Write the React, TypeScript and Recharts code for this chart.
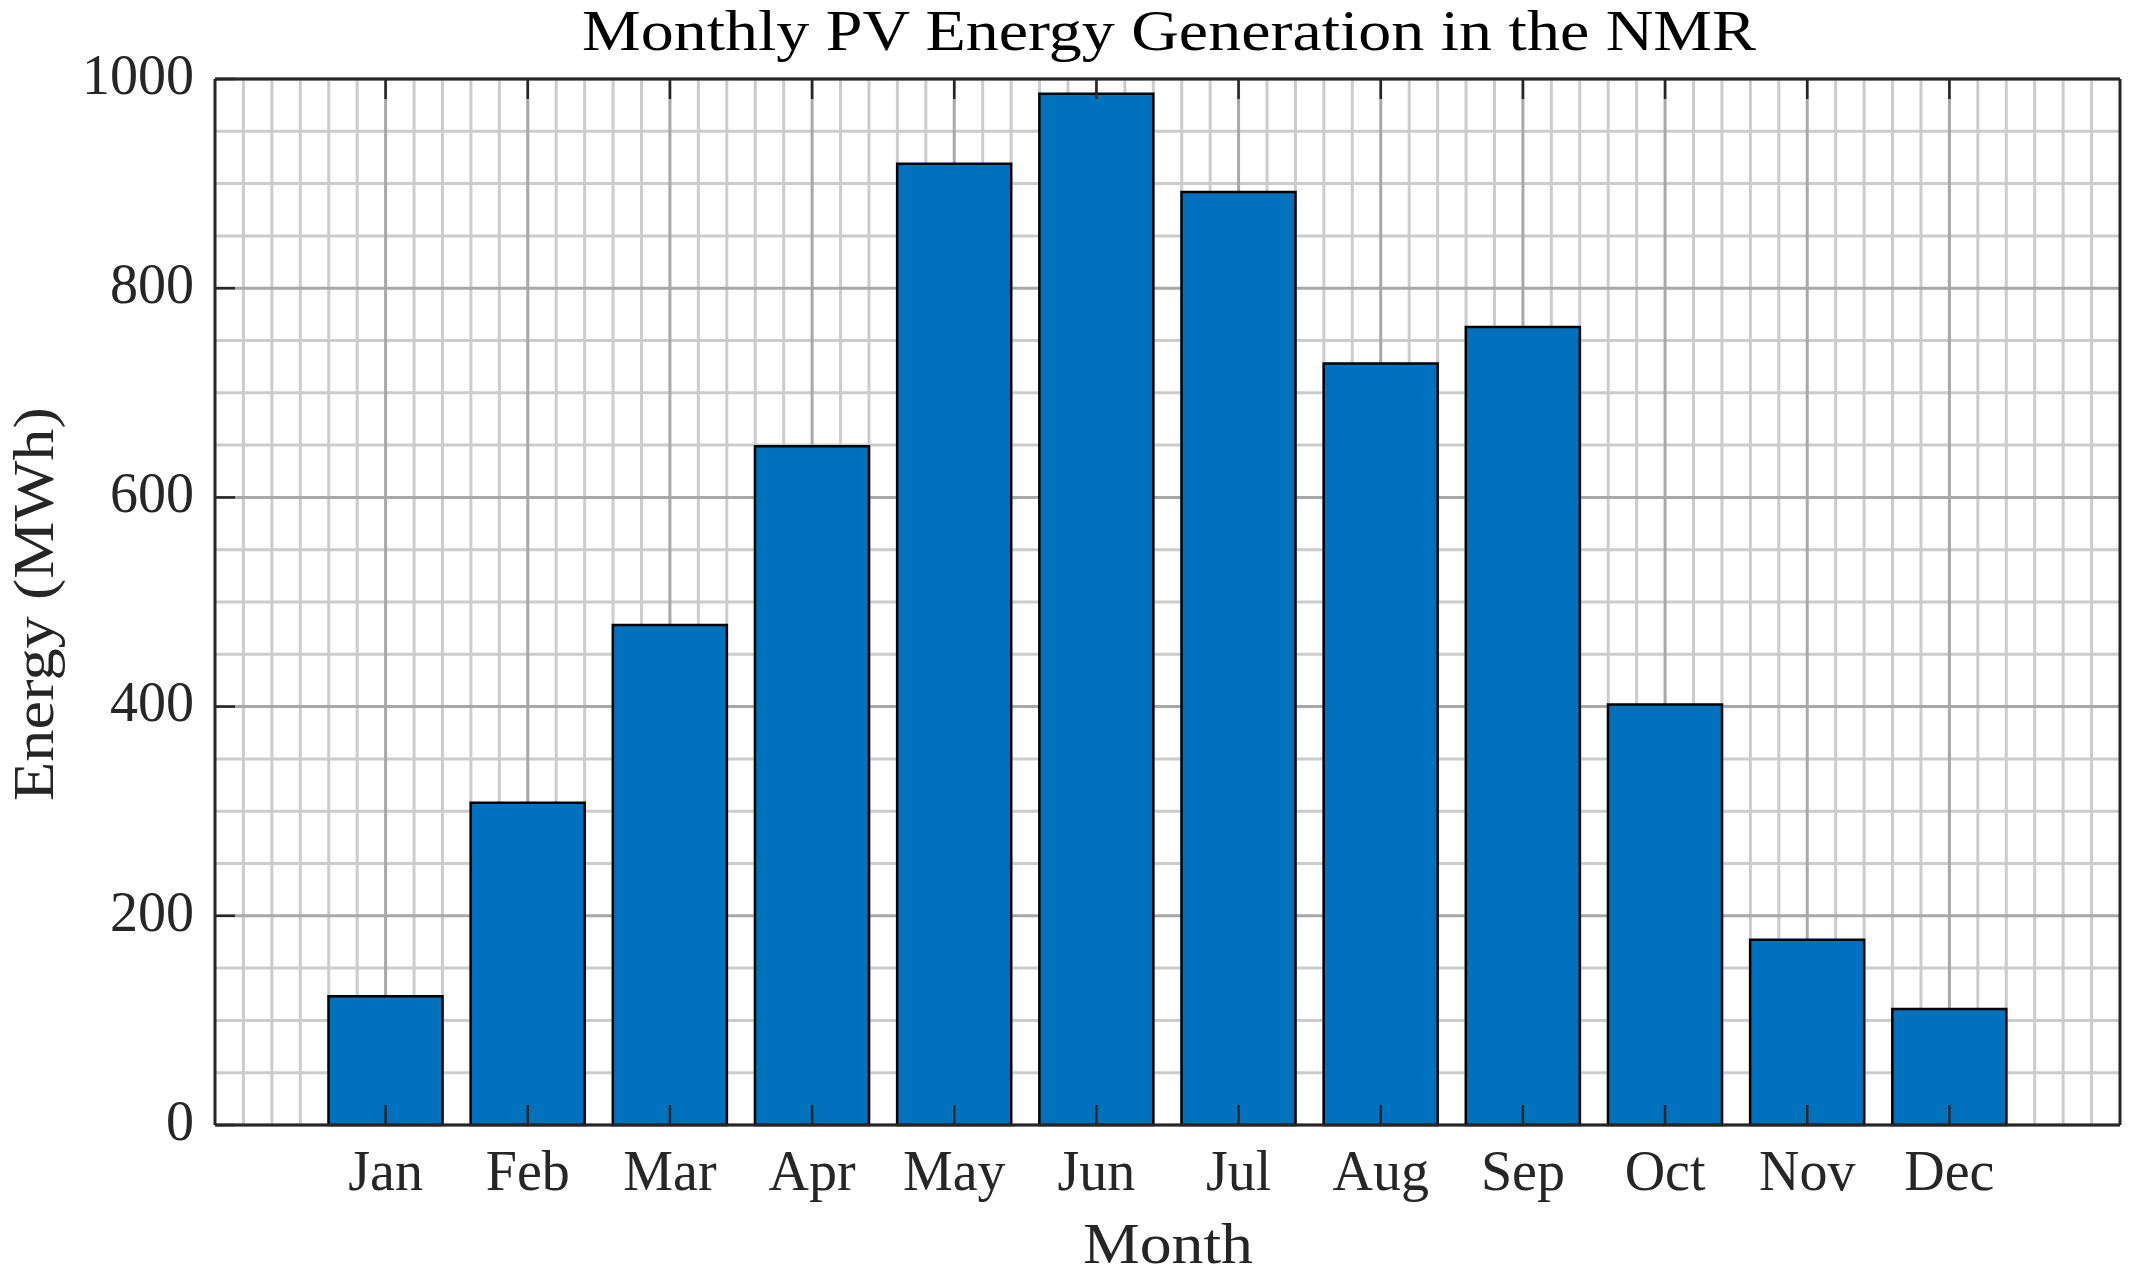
import React from "react";
import {
  BarChart,
  Bar,
  XAxis,
  YAxis,
  CartesianGrid,
  Customized,
} from "recharts";

// monthly PV generation, MWh
const months = ["Jan", "Feb", "Mar", "Apr", "May", "Jun", "Jul", "Aug", "Sep", "Oct", "Nov", "Dec"];
const energy = [123, 308, 478, 649, 919, 986, 892, 728, 763, 402, 177, 111];

const monthTicks = [1, 2, 3, 4, 5, 6, 7, 8, 9, 10, 11, 12];
const yTicks = [0, 200, 400, 600, 800, 1000];
const xDomain = [-0.2, 13.2];
const yDomain = [0, 1000];

// minor grid every 0.2 months / 50 MWh (majors drawn separately)
const minorX = Array.from({ length: 66 }, (_, i) => Math.round(i * 2) / 10).filter(
  (v) => !monthTicks.includes(v)
);
const minorY = Array.from({ length: 21 }, (_, i) => i * 50).filter((v) => v % 200 !== 0);

const data = months.map((m, i) => ({ x: monthTicks[i], month: m, energy: energy[i] }));

const FONT = '"Liberation Serif", "Times New Roman", serif';
const INK = "#262626";
const tickLine = { stroke: INK, strokeWidth: 2.5 };
const axisLine = { stroke: INK, strokeWidth: 3 };
const blank = () => "";

function Title() {
  return (
    <text
      x={1169}
      y={50}
      textAnchor="middle"
      fontFamily={FONT}
      fontSize={56}
      fill="#000"
      textLength={1174}
      lengthAdjust="spacingAndGlyphs"
    >
      Monthly PV Energy Generation in the NMR
    </text>
  );
}

function AxisTitles() {
  return (
    <g fontFamily={FONT} fontSize={56} fill={INK}>
      <text
        x={1168}
        y={1263}
        textAnchor="middle"
        textLength={170}
        lengthAdjust="spacingAndGlyphs"
      >
        Month
      </text>
      <text
        x={53}
        y={604}
        textAnchor="middle"
        transform="rotate(-90, 53, 604)"
        textLength={394}
        lengthAdjust="spacingAndGlyphs"
      >
        Energy (MWh)
      </text>
    </g>
  );
}

export default function App() {
  return (
    <div style={{ position: "absolute", left: 0, top: 0, background: "#fff" }}>
      <BarChart
        width={2136}
        height={1282}
        data={data}
        margin={{ top: 78, right: 15, bottom: 0, left: 0 }}
      >
        <CartesianGrid
          stroke="#cccccc"
          strokeWidth={3}
          verticalValues={minorX}
          horizontalValues={minorY}
        />
        <CartesianGrid
          stroke="#a8a8a8"
          strokeWidth={3}
          verticalValues={monthTicks}
          horizontalValues={yTicks}
        />
        <Bar
          dataKey="energy"
          fill="#0072BD"
          stroke="#000"
          strokeWidth={2.5}
          barSize={114}
          isAnimationActive={false}
        />
        <XAxis
          dataKey="x"
          type="number"
          domain={xDomain}
          ticks={monthTicks}
          interval={0}
          height={157}
          tickFormatter={(v) => months[v - 1]}
          tickSize={-20}
          tickMargin={45}
          tick={{ fontFamily: FONT, fontSize: 56, fill: INK }}
          tickLine={tickLine}
          axisLine={axisLine}
        />
        <XAxis
          xAxisId="top"
          orientation="top"
          dataKey="x"
          type="number"
          domain={xDomain}
          ticks={monthTicks}
          interval={0}
          height={1}
          tickFormatter={blank}
          tickSize={-20}
          tickLine={tickLine}
          axisLine={axisLine}
        />
        <YAxis
          type="number"
          domain={yDomain}
          ticks={yTicks}
          interval={0}
          width={215}
          tickSize={-20}
          tickMargin={41}
          tick={{ fontFamily: FONT, fontSize: 56, fill: INK, dy: -5 }}
          tickLine={tickLine}
          axisLine={axisLine}
        />
        <YAxis
          yAxisId="right"
          orientation="right"
          type="number"
          domain={yDomain}
          ticks={yTicks}
          interval={0}
          width={1}
          tickFormatter={blank}
          tickSize={-20}
          tickLine={tickLine}
          axisLine={axisLine}
        />
        <Customized component={Title} />
        <Customized component={AxisTitles} />
      </BarChart>
    </div>
  );
}
